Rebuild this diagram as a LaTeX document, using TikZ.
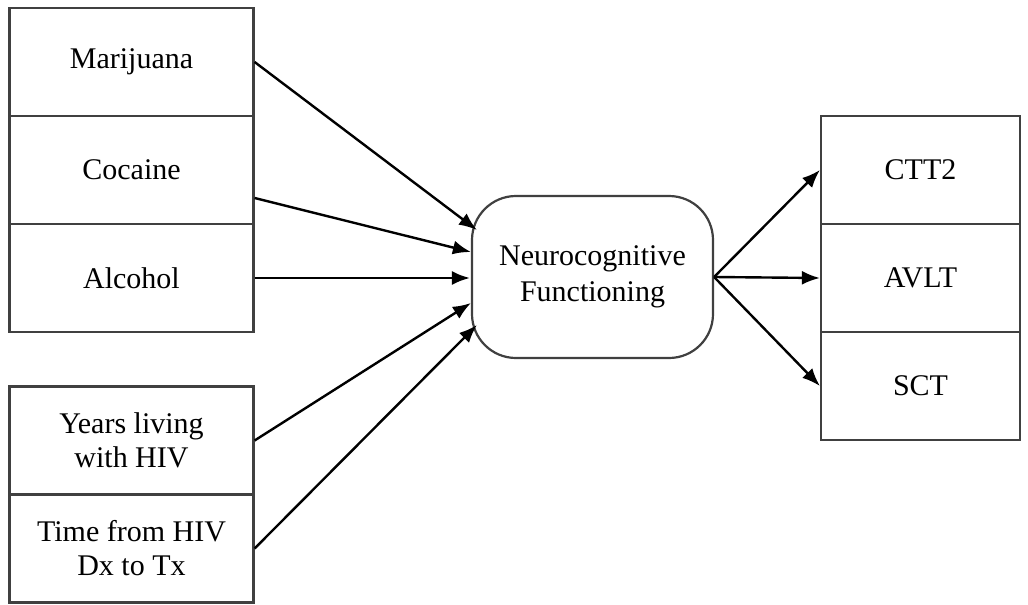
\documentclass[tikz,border=0pt]{standalone}
\usepackage{fontspec}
\setmainfont{Liberation Serif}
\usetikzlibrary{arrows.meta}
\tikzset{
  varbox/.style={draw=black!75, line width=1.1pt, minimum width=122pt, minimum height=54pt,
    align=center, inner sep=2pt, font=\fontsize{15}{17}\selectfont},
  outbox/.style={varbox, minimum width=99.5pt},
  latent/.style={draw=black!75, line width=1.1pt, rounded corners=22pt, minimum width=120.5pt,
    minimum height=81pt, align=center, font=\fontsize{15}{18}\selectfont},
  arr/.style={-{Latex[length=9pt,width=7pt]}, line width=1.2pt}
}
\begin{document}
\begin{tikzpicture}[x=0.5pt, y=-0.5pt]
\useasboundingbox (0,0) rectangle (1028,605);
% substance use and HIV predictors
\node[varbox] (mar) at (131.5,62) {Marijuana};
\node[varbox] (coc) at (131.5,170) {Cocaine};
\node[varbox] (alc) at (131.5,278) {Alcohol};
\node[varbox] (yrs) at (131.5,440.5) {Years living\\with HIV};
\node[varbox] (tim) at (131.5,548.5) {Time from HIV\\Dx to Tx};
% latent factor
\node[latent] (nf) at (592.5,277) {Neurocognitive\\Functioning};
% indicators
\node[outbox] (ctt) at (920.5,170) {CTT2};
\node[outbox] (avl) at (920.5,278) {AVLT};
\node[outbox] (sct) at (920.5,386) {SCT};
\draw[arr] (mar.east) -- ([shift={(6,-47)}]nf.west);
\draw[arr] ([yshift=-14pt]coc.east) -- ([shift={(0,-25)}]nf.west);
\draw[arr] (alc.east) -- ([shift={(-1,1)}]nf.west);
\draw[arr] (yrs.east) -- ([shift={(0,26)}]nf.west);
\draw[arr] (tim.east) -- ([shift={(6,48)}]nf.west);
\draw[arr] (nf.east) -- (ctt.west);
\draw[arr] (nf.east) -- (avl.west);
\draw[arr] (nf.east) -- (sct.west);
\end{tikzpicture}
\end{document}
